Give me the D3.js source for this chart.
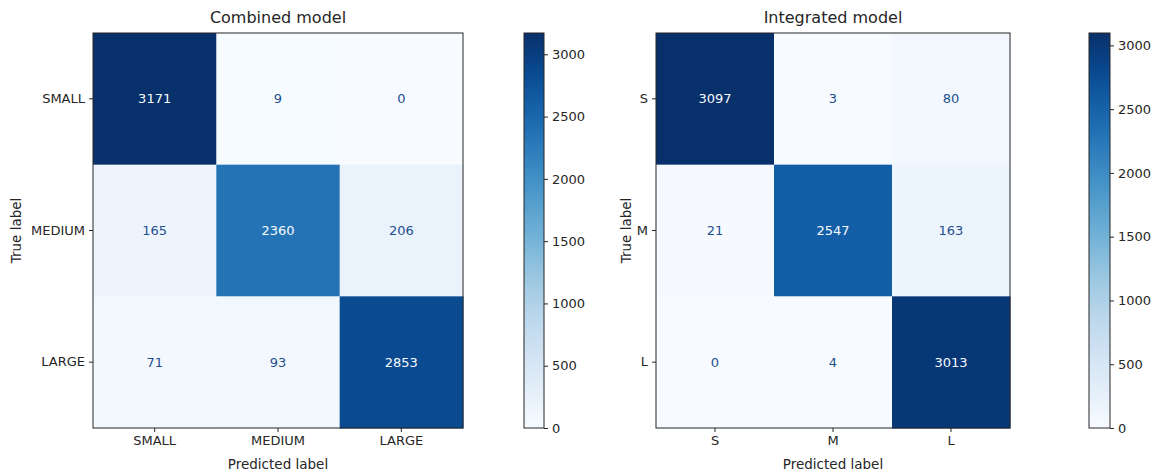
<!DOCTYPE html>
<html>
<head>
<meta charset="utf-8">
<script src="https://cdn.jsdelivr.net/npm/d3@7"></script>
<style>
  body { margin: 0; background: #fff; }
  text { font-family: "DejaVu Sans", sans-serif; fill: #262626; }
  .tick text { font-size: 13px; }
  .domain, .tick line { stroke: #262626; }
</style>
</head>
<body>
<div id="chart"></div>
<script>
// data
const combinedLabels = ["SMALL", "MEDIUM", "LARGE"];
const combinedValues = [
    [3171, 9, 0],
    [165, 2360, 206],
    [71, 93, 2853]
];
const integratedLabels = ["S", "M", "L"];
const integratedValues = [
    [3097, 3, 80],
    [21, 2547, 163],
    [0, 4, 3013]
];
const colorbarTicks = [0, 500, 1000, 1500, 2000, 2500, 3000];

const svg = d3.select("#chart").append("svg")
    .attr("width", 1163)
    .attr("height", 473);

const defs = svg.append("defs");

function drawMatrix(opts) {
    let g = svg.append("g");
    let n = opts.labels.length;
    let flat = opts.values.flat();
    let vmin = d3.min(flat), vmax = d3.max(flat);

    let x = d3.scaleBand().domain(d3.range(n)).range([opts.left, opts.right]);
    let y = d3.scaleBand().domain(d3.range(n)).range([opts.top, opts.bottom]);
    let color = d3.scaleSequential(d3.interpolateBlues).domain([vmin, vmax]);
    let thresh = (vmin + vmax) / 2;

    let cells = [];
    opts.values.forEach((row, i) => row.forEach((v, j) => cells.push({ i, j, v })));

    g.selectAll(".cell")
        .data(cells)
        .enter()
        .append("rect")
        .attr("class", "cell")
        .attr("x", d => x(d.j))
        .attr("y", d => y(d.i))
        .attr("width", x.bandwidth() + 0.5)
        .attr("height", y.bandwidth() + 0.5)
        .attr("fill", d => color(d.v));

    g.selectAll(".val")
        .data(cells)
        .enter()
        .append("text")
        .attr("class", "val")
        .attr("x", d => x(d.j) + x.bandwidth() / 2)
        .attr("y", d => y(d.i) + y.bandwidth() / 2)
        .attr("text-anchor", "middle")
        .attr("dy", "0.35em")
        .style("font-size", "13px")
        .style("fill", d => d.v > thresh ? d3.interpolateBlues(0) : "#1f4f8f")
        .text(d => d.v);

    // frame
    g.append("rect")
        .attr("x", opts.left)
        .attr("y", opts.top)
        .attr("width", opts.right - opts.left)
        .attr("height", opts.bottom - opts.top)
        .attr("fill", "none")
        .attr("stroke", "#262626")
        .attr("stroke-width", 1);

    let xAxis = d3.axisBottom(x).tickSize(4).tickPadding(4).tickFormat(i => opts.labels[i]);
    let yAxis = d3.axisLeft(y).tickSize(4).tickPadding(4).tickFormat(i => opts.labels[i]);

    g.append("g")
        .attr("transform", `translate(0,${opts.bottom})`)
        .call(xAxis)
        .call(a => a.select(".domain").remove());
    g.append("g")
        .attr("transform", `translate(${opts.left},0)`)
        .call(yAxis)
        .call(a => a.select(".domain").remove());

    // axis titles
    g.append("text")
        .attr("x", (opts.left + opts.right) / 2)
        .attr("y", 469)
        .attr("text-anchor", "middle")
        .style("font-size", "13.5px")
        .text("Predicted label");
    g.append("text")
        .attr("transform", `translate(${opts.ylabelX},${(opts.top + opts.bottom) / 2}) rotate(-90)`)
        .attr("text-anchor", "middle")
        .style("font-size", "13.5px")
        .text("True label");

    g.append("text")
        .attr("x", (opts.left + opts.right) / 2)
        .attr("y", 23)
        .attr("text-anchor", "middle")
        .style("font-size", "16px")
        .text(opts.title);

    // colorbar
    let gradId = "grad-" + opts.id;
    let grad = defs.append("linearGradient")
        .attr("id", gradId)
        .attr("x1", 0).attr("y1", 1).attr("x2", 0).attr("y2", 0);
    d3.range(0, 1.0001, 0.05).forEach(t => {
        grad.append("stop")
            .attr("offset", t)
            .attr("stop-color", d3.interpolateBlues(t));
    });

    let cb = opts.cbar;
    let cy = d3.scaleLinear().domain([vmin, vmax]).range([opts.bottom, opts.top]);
    g.append("rect")
        .attr("x", cb.left)
        .attr("y", opts.top)
        .attr("width", cb.width)
        .attr("height", opts.bottom - opts.top)
        .attr("fill", `url(#${gradId})`)
        .attr("stroke", "#262626");
    g.append("g")
        .attr("transform", `translate(${cb.left + cb.width},0)`)
        .call(d3.axisRight(cy).tickValues(colorbarTicks).tickFormat(d3.format("d")).tickSize(4).tickPadding(4))
        .call(a => a.select(".domain").remove());
}

drawMatrix({
    id: "a",
    title: "Combined model",
    labels: combinedLabels,
    values: combinedValues,
    left: 93, right: 463, top: 33, bottom: 428,
    ylabelX: 21,
    cbar: { left: 524, width: 20 }
});

drawMatrix({
    id: "b",
    title: "Integrated model",
    labels: integratedLabels,
    values: integratedValues,
    left: 656, right: 1010, top: 33, bottom: 428,
    ylabelX: 631,
    cbar: { left: 1089, width: 21 }
});
</script>
</body>
</html>
